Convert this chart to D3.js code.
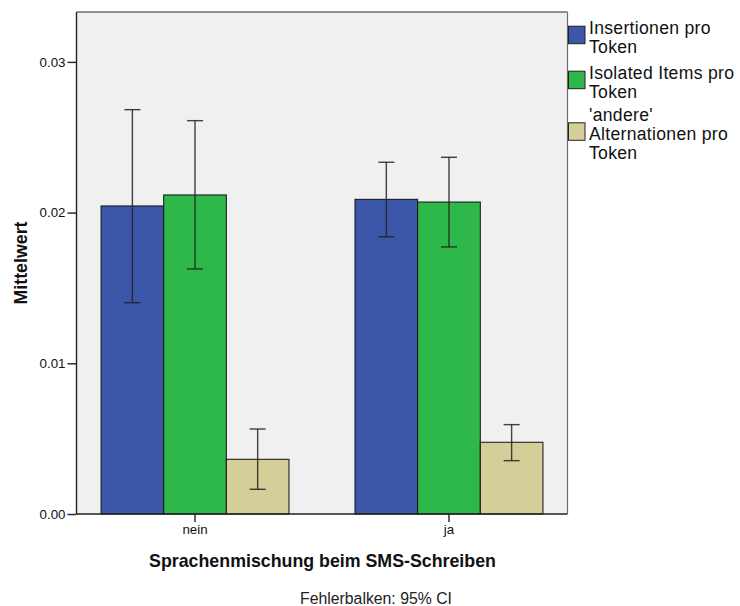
<!DOCTYPE html>
<html>
<head>
<meta charset="utf-8">
<script src="https://cdn.jsdelivr.net/npm/d3@7"></script>
<style>
  html, body { margin: 0; padding: 0; background: #ffffff; }
  svg { display: block; font-family: "Liberation Sans", Arial, sans-serif; }
</style>
</head>
<body>
<svg id="chart" width="740" height="606"></svg>
<script>
// ---- data ----
const categories = ["nein", "ja"];
const seriesNames = ["Insertionen pro Token", "Isolated Items pro Token", "'andere' Alternationen pro Token"];
const legendLines = [["Insertionen pro", "Token"], ["Isolated Items pro", "Token"], ["'andere'", "Alternationen pro", "Token"]];
const seriesColors = ["#3c56a9", "#2eb84a", "#d4ce98"];
const meanInsertionen = [0.02044, 0.02088];
const meanIsolated = [0.02117, 0.02070];
const meanAndere = [0.00363, 0.00476];
const ciLowInsertionen = [0.01402, 0.01840];
const ciHighInsertionen = [0.02683, 0.02334];
const ciLowIsolated = [0.01626, 0.01772];
const ciHighIsolated = [0.02610, 0.02367];
const ciLowAndere = [0.00164, 0.00354];
const ciHighAndere = [0.00564, 0.00593];
const yTicks = [0, 0.01, 0.02, 0.03];
const xTitle = "Sprachenmischung beim SMS-Schreiben";
const yTitle = "Mittelwert";
const footnote = "Fehlerbalken: 95% CI";

const means = [meanInsertionen, meanIsolated, meanAndere];
const lows = [ciLowInsertionen, ciLowIsolated, ciLowAndere];
const highs = [ciHighInsertionen, ciHighIsolated, ciHighAndere];

const rows = [];
categories.forEach((c, ci) => {
  seriesNames.forEach((s, si) => {
    rows.push({cat: c, series: s, si, value: means[si][ci], lo: lows[si][ci], hi: highs[si][ci]});
  });
});

// ---- layout ----
const svg = d3.select("#chart");
const L = 76.5, R = 567.5, T = 12, B = 514;

const x = d3.scaleBand().domain(categories).range([L, R]).paddingInner(0.26).paddingOuter(0.0967);
const xs = d3.scaleBand().domain(seriesNames).range([0, x.bandwidth()]).padding(0);
const y = d3.scaleLinear().domain([0, 0.03331]).range([B, T]);

// background
svg.append("rect").attr("x", L).attr("y", T).attr("width", R - L).attr("height", B - T)
  .attr("fill", "#f0f0f0");

// bars
svg.append("g").selectAll("rect").data(rows).join("rect")
  .attr("x", d => x(d.cat) + xs(d.series))
  .attr("y", d => y(d.value))
  .attr("width", xs.bandwidth())
  .attr("height", d => y(0) - y(d.value))
  .attr("fill", d => seriesColors[d.si])
  .attr("stroke", "#111")
  .attr("stroke-width", 1);

// error bars
const eb = svg.append("g").attr("stroke", "#222").attr("stroke-width", 1.4).attr("stroke-opacity", 0.85);
rows.forEach(d => {
  const cx = x(d.cat) + xs(d.series) + xs.bandwidth() / 2;
  eb.append("line").attr("x1", cx).attr("x2", cx).attr("y1", y(d.hi)).attr("y2", y(d.lo));
  eb.append("line").attr("x1", cx - 8).attr("x2", cx + 8).attr("y1", y(d.hi)).attr("y2", y(d.hi));
  eb.append("line").attr("x1", cx - 8).attr("x2", cx + 8).attr("y1", y(d.lo)).attr("y2", y(d.lo));
});

// frame: top & right gray
svg.append("line").attr("x1", L).attr("x2", R).attr("y1", T).attr("y2", T).attr("stroke", "#6e6e6e").attr("stroke-width", 1.5);
svg.append("line").attr("x1", R).attr("x2", R).attr("y1", T).attr("y2", B).attr("stroke", "#6e6e6e").attr("stroke-width", 1.2);

// y axis
const yAxis = d3.axisLeft(y).tickValues(yTicks).tickFormat(d3.format(".2f")).tickSize(9).tickPadding(2);
const gy = svg.append("g").attr("transform", `translate(${L},0)`).call(yAxis);
gy.select(".domain").attr("stroke", "#222").attr("stroke-width", 1.4).attr("d", `M0,${T}V${B}`);
gy.selectAll(".tick line").attr("stroke", "#222").attr("stroke-width", 1.4);
gy.selectAll(".tick text").attr("font-size", 13.3).attr("fill", "#111").attr("font-family", "Liberation Sans, Arial, sans-serif");

// x axis
const xAxis = d3.axisBottom(x).tickSize(8).tickPadding(3);
const gx = svg.append("g").attr("transform", `translate(0,${B})`).call(xAxis);
gx.select(".domain").attr("stroke", "#222").attr("stroke-width", 1.4).attr("d", `M${L},0H${R}`);
gx.selectAll(".tick line").attr("stroke", "#222").attr("stroke-width", 1.4);
gx.selectAll(".tick text").attr("font-size", 13.3).attr("fill", "#111").attr("font-family", "Liberation Sans, Arial, sans-serif");

// titles
svg.append("text").attr("x", (L + R) / 2 + 0.5).attr("y", 567).attr("text-anchor", "middle")
  .attr("font-size", 17.8).attr("font-weight", "bold").attr("fill", "#111").text(xTitle);
svg.append("text").attr("transform", `translate(27,${(T + B) / 2}) rotate(-90)`).attr("text-anchor", "middle")
  .attr("font-size", 17.8).attr("font-weight", "bold").attr("fill", "#111").text(yTitle);
svg.append("text").attr("x", 376).attr("y", 604).attr("text-anchor", "middle")
  .attr("font-size", 15.8).attr("fill", "#222").text(footnote);

// legend
const legendBaselines = [34, 79, 121];
const lineH = 19.2;
const lg = svg.append("g");
legendLines.forEach((lines, i) => {
  const b0 = legendBaselines[i];
  const n = lines.length;
  const mid = b0 - 14 + (n * lineH) / 2;
  lg.append("rect").attr("x", 568.5).attr("y", mid - 13).attr("width", 16.5).attr("height", 17.5)
    .attr("fill", seriesColors[i]).attr("stroke", "#222").attr("stroke-width", 1);
  lines.forEach((ln, k) => {
    lg.append("text").attr("font-size", 17.6).attr("letter-spacing", 0.3).attr("fill", "#111")
      .attr("x", 589).attr("y", b0 + k * lineH).text(ln);
  });
});
</script>
</body>
</html>
